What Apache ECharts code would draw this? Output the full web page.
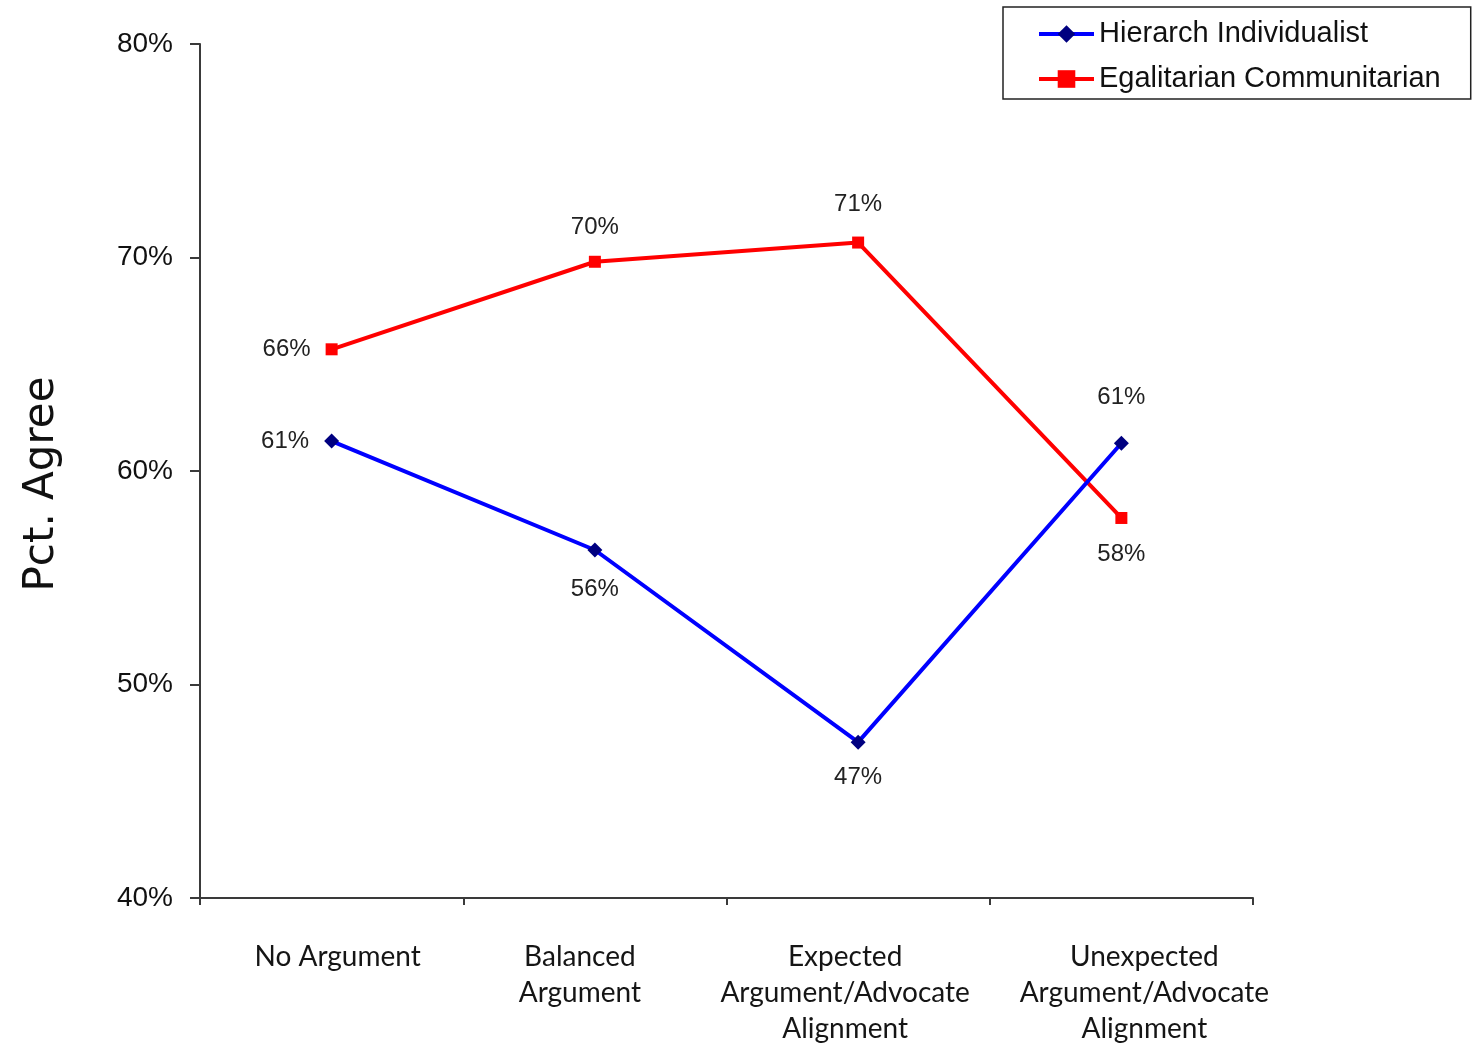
<!DOCTYPE html>
<html>
<head>
<meta charset="utf-8">
<title>Pct. Agree by argument condition</title>
<script src="https://cdn.jsdelivr.net/npm/echarts@6/dist/echarts.min.js"></script>
<style>
  html, body { margin: 0; padding: 0; background: #ffffff; }
  #chart { width: 1472px; height: 1047px; }
</style>
</head>
<body>
<div id="chart"></div>
<script>
// Conditions shown along the x axis
const categories = [
  'No Argument',
  'Balanced\nArgument',
  'Expected\nArgument/Advocate\nAlignment',
  'Unexpected\nArgument/Advocate\nAlignment'
];

// Share agreeing (percent) for each cultural group
const hierarchIndividualist = [61.4, 56.3, 47.3, 61.3];
const egalitarianCommunitarian = [65.7, 69.8, 70.7, 57.8];

// Y axis tick range (percent)
const yMin = 40;
const yMax = 80;
const yStep = 10;

// Horizontal nudge (px) of each category label from its slot centre
const categoryLabelShift = [6, -15, -13, 23];

// Where each value label sits relative to its point
const bluePlacement = [['left', 15], ['bottom', 20], ['bottom', 16], ['top', 26]];
const redPlacement = [['left', 15], ['top', 16], ['top', 20], ['bottom', 18]];

const labelFont = {
  fontFamily: '"Liberation Sans", Arial, sans-serif',
  fontSize: 24,
  lineHeight: 24,
  color: '#222222'
};

function withLabels(values, placement) {
  return values.map((v, i) => ({
    value: v,
    label: {
      show: true,
      position: placement[i][0],
      distance: placement[i][1],
      formatter: (p) => Math.round(p.value) + '%',
      ...labelFont
    }
  }));
}

// Category entries with padding so centred text lands at the nudged spot
const categoryItems = categories.map((name, i) => {
  const s = categoryLabelShift[i];
  return {
    value: name,
    textStyle: { padding: s >= 0 ? [0, 0, 0, 2 * s] : [0, -2 * s, 0, 0] }
  };
});

const chart = echarts.init(document.getElementById('chart'), null, { renderer: 'canvas' });

chart.setOption({
  animation: false,
  backgroundColor: '#ffffff',
  grid: {
    left: 200, right: 219, top: 44, bottom: 149,
    containLabel: false,
    outerBoundsMode: 'none'
  },
  legend: {
    orient: 'vertical',
    left: 1003,
    top: 7,
    padding: [10, 30, 3, 34],
    itemGap: 11,
    itemWidth: 55,
    itemHeight: 22,
    borderColor: '#222222',
    borderWidth: 1.5,
    backgroundColor: '#ffffff',
    lineStyle: { width: 4 },
    textStyle: {
      fontFamily: '"Liberation Sans", Arial, sans-serif',
      fontSize: 29,
      lineHeight: 34,
      color: '#111111',
      padding: [0, 0, 0, 0]
    },
    data: ['Hierarch Individualist', 'Egalitarian Communitarian']
  },
  xAxis: {
    type: 'category',
    data: categoryItems,
    boundaryGap: true,
    axisLine: { lineStyle: { color: '#3a3a3a', width: 2 } },
    axisTick: { show: true, length: 7, lineStyle: { color: '#3a3a3a', width: 2 } },
    axisLabel: {
      margin: 41,
      fontFamily: 'Lato, "Open Sans", sans-serif',
      fontSize: 28,
      lineHeight: 36,
      color: '#151515',
      interval: 0
    },
    splitLine: { show: false }
  },
  yAxis: {
    type: 'value',
    min: yMin,
    max: yMax,
    interval: yStep,
    name: 'Pct. Agree',
    nameLocation: 'middle',
    nameGap: 137,
    nameRotate: 90,
    nameTextStyle: {
      fontFamily: '"DejaVu Sans", sans-serif',
      fontSize: 42,
      color: '#111111',
      padding: [0, 26, 0, 0]
    },
    axisLine: { show: true, lineStyle: { color: '#3a3a3a', width: 2 } },
    axisTick: { show: true, length: 10, lineStyle: { color: '#3a3a3a', width: 2 } },
    axisLabel: {
      margin: 27,
      formatter: '{value}%',
      fontFamily: '"Liberation Sans", Arial, sans-serif',
      fontSize: 28,
      color: '#111111'
    },
    splitLine: { show: false }
  },
  series: [
    {
      name: 'Hierarch Individualist',
      type: 'line',
      data: withLabels(hierarchIndividualist, bluePlacement),
      symbol: 'diamond',
      symbolSize: 15,
      showAllSymbol: true,
      lineStyle: { color: '#0000ff', width: 4 },
      itemStyle: { color: '#000080' },
      z: 3
    },
    {
      name: 'Egalitarian Communitarian',
      type: 'line',
      data: withLabels(egalitarianCommunitarian, redPlacement),
      symbol: 'rect',
      symbolSize: 12,
      showAllSymbol: true,
      lineStyle: { color: '#ff0000', width: 4 },
      itemStyle: { color: '#ff0000' },
      z: 2
    }
  ]
});
</script>
</body>
</html>
